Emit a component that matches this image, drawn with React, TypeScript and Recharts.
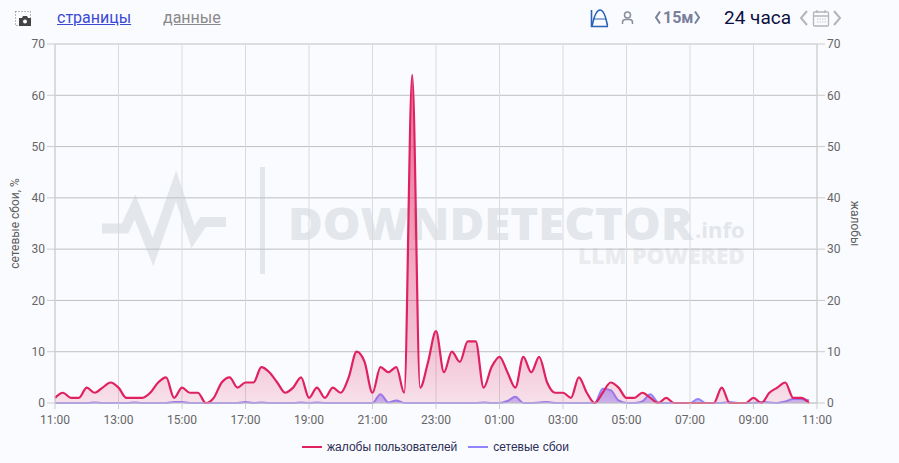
import {
  Area,
  AreaChart,
  CartesianGrid,
  Legend,
  XAxis,
  YAxis,
} from "recharts"

// one value per 15 minutes, starting at 11:00
const complaints = [
  1, 2, 1, 1, 3, 2, 3, 4, 3, 1, 1, 1, 2, 4, 5, 1, 3, 2, 2, 0, 1, 4, 5, 3,
  4, 4, 7, 6, 4, 2, 3, 5, 1, 3, 1, 3, 2, 5, 10, 8, 2, 7, 6, 7, 2, 64, 3, 8,
  14, 6, 10, 8, 12, 12, 3, 7, 9, 6, 3, 9, 6, 9, 4, 2, 2, 1, 5, 2, 0, 2, 4, 3,
  1, 1, 2, 1, 0, 1, 0, 0, 0, 0, 0, 0, 3, 0, 0, 0, 1, 0, 2, 3, 4, 1, 1, 0,
]
const failures = [
  0, 0, 0, 0, 0, 0.1, 0, 0, 0, 0, 0.1, 0, 0, 0, 0, 0.2, 0.2, 0, 0, 0, 0, 0, 0, 0,
  0.2, 0, 0.1, 0, 0, 0, 0, 0.1, 0, 0.1, 0, 0, 0, 0, 0, 0, 0, 1.7, 0.1, 0.5, 0, 0, 0, 0,
  0, 0, 0, 0, 0, 0, 0.1, 0, 0, 0.4, 1.2, 0, 0, 0.1, 0.2, 0, 0, 0, 0, 0, 0, 2.8, 2.5, 0.5,
  0, 0, 0.3, 1.7, 0.1, 0, 0, 0, 0, 0.8, 0, 0, 0, 0.2, 0, 0, 0, 0.2, 0.1, 0, 0.3, 0.8, 0.8, 0.5,
]
const xTicks = [0, 8, 16, 24, 32, 40, 48, 56, 64, 72, 80, 88, 96]
const xLabels = [
  "11:00", "13:00", "15:00", "17:00", "19:00", "21:00", "23:00",
  "01:00", "03:00", "05:00", "07:00", "09:00", "11:00",
]
const yTicks = [0, 10, 20, 30, 40, 50, 60, 70]
const seriesNames = ["жалобы пользователей", "сетевые сбои"]
const seriesColors = ["#e0215f", "#9184fb"]

const data = complaints.map((complaint, i) => ({
  slot: i,
  complaint,
  failure: failures[i],
}))

const tickStyle = { fontSize: 12, fill: "#666", fontFamily: "Roboto" }
const labelStyle = { fontSize: 12, fill: "#5c5c5c", fontFamily: "Roboto", textAnchor: "middle" }

function Watermark() {
  return (
    <svg width={899} height={463} style={{ position: "absolute", left: 0, top: 0 }}>
      <polyline
        points="102,228.5 125,228.5 135,207 153,252 176,186 193,237 203,222 226,222"
        fill="none"
        stroke="#e3e6eb"
        strokeWidth={10}
      />
      <rect x={260} y={167} width={5} height={107} fill="#e3e6eb" />
      <text x={288} y={240} fontFamily="Open Sans" fontWeight={800} fontSize={45} fill="#e3e6eb" textLength={405} lengthAdjust="spacingAndGlyphs">
        DOWNDETECTOR
      </text>
      <text x={695} y={238} fontFamily="Open Sans" fontWeight={700} fontSize={22} fill="#e3e6eb">
        .info
      </text>
      <text x={578} y={264} fontFamily="Open Sans" fontWeight={800} fontSize={22} fill="#e9ebef" textLength={167} lengthAdjust="spacingAndGlyphs">
        LLM POWERED
      </text>
    </svg>
  )
}

function Header() {
  const text = { position: "absolute", fontFamily: "Roboto", whiteSpace: "nowrap" } as const
  return (
    <>
      <svg width={899} height={36} style={{ position: "absolute", left: 0, top: 0 }}>
        {/* camera */}
        <rect x={15.5} y={11.5} width={15} height={14} fill="none" stroke="#777" strokeDasharray="1 2" />
        <path d="M19 18h3l1-2h4l1 2h3v8H19z" fill="#444" />
        <circle cx={25} cy={21.5} r={2} fill="#fff" />
        {/* chart mode */}
        <path d="M591.5 10v16.5H608" fill="none" stroke="#2a62b8" strokeWidth={1.6} />
        <path d="M592 26C595 12 598 10 600 10S605 12 607.5 26" fill="none" stroke="#2a62b8" strokeWidth={1.6} />
        <path d="M593 19h13" stroke="#2a62b8" strokeWidth={1} />
        {/* person */}
        <circle cx={627.5} cy={15} r={3} fill="none" stroke="#8a8f9c" strokeWidth={1.5} />
        <path d="M622.5 24v-1.5q0-3 3-3h4q3 0 3 3V24" fill="none" stroke="#8a8f9c" strokeWidth={1.5} />
        {/* interval arrows */}
        <path d="M660 11.5l-4 6 4 6M695 11.5l4 6-4 6" fill="none" stroke="#7a7f9c" strokeWidth={2} />
        {/* calendar and arrows */}
        <path d="M807 11l-6 7 6 7" fill="none" stroke="#b5b5b5" strokeWidth={2} />
        <rect x={813.5} y={12} width={15} height={14} rx={1} fill="none" stroke="#b5b5b5" strokeWidth={1.3} />
        <path d="M813.5 16h15M817 10v3M825 10v3" stroke="#b5b5b5" strokeWidth={1.3} />
        <path d="M817 19h9M817 22h9" stroke="#c8c8c8" strokeWidth={1} strokeDasharray="1.5 1" />
        <path d="M834 11l6 7-6 7" fill="none" stroke="#b5b5b5" strokeWidth={2} />
      </svg>
      <span style={{ ...text, left: 57, top: 8, fontSize: 16, color: "#3b49d6", textDecoration: "underline" }}>страницы</span>
      <span style={{ ...text, left: 163, top: 8, fontSize: 16, color: "#8a8a8a", textDecoration: "underline" }}>данные</span>
      <span style={{ ...text, left: 663, top: 8, fontSize: 16, fontWeight: 700, color: "#7a7f9c" }}>15м</span>
      <span style={{ ...text, left: 724, top: 6, fontSize: 19, color: "#0b1040" }}>24 часа</span>
    </>
  )
}

function ChartLegend() {
  return (
    <div style={{ display: "flex", justifyContent: "center", paddingRight: 28, fontFamily: "Liberation Sans", fontSize: 12, color: "#2b2b55" }}>
      {seriesNames.map((name, i) => (
        <span key={name} style={{ display: "flex", alignItems: "center", marginRight: i === 0 ? 11 : 0 }}>
          <span style={{ width: 20, height: 2, marginRight: 5, background: seriesColors[i] }} />
          {name}
        </span>
      ))}
    </div>
  )
}

export default function App() {
  return (
    <div style={{ position: "fixed", left: 0, top: 0, width: 899, height: 463, background: "#fafbfe", overflow: "hidden" }}>
      <Watermark />
      <Header />
      <div style={{ position: "absolute", left: 0, top: 0 }}>
        <AreaChart width={899} height={463} data={data} margin={{ top: 44, right: 35, bottom: 10, left: 8 }}>
          <defs>
            <linearGradient id="complaintFill" x1="0" y1="0" x2="0" y2="1">
              <stop offset="0%" stopColor="#e0215f" stopOpacity={1} />
              <stop offset="27%" stopColor="#e0215f" stopOpacity={0.9} />
              <stop offset="62%" stopColor="#e0215f" stopOpacity={0.58} />
              <stop offset="84%" stopColor="#e0215f" stopOpacity={0.42} />
              <stop offset="93%" stopColor="#e0215f" stopOpacity={0.3} />
              <stop offset="100%" stopColor="#e0215f" stopOpacity={0.2} />
            </linearGradient>
            <linearGradient id="failureFill" x1="0" y1="0" x2="0" y2="1">
              <stop offset="0%" stopColor="#8478fc" stopOpacity={0.95} />
              <stop offset="100%" stopColor="#8478fc" stopOpacity={0.7} />
            </linearGradient>
          </defs>
          <CartesianGrid yAxisId="left" stroke="#bdbfc3" vertical={false} horizontalValues={yTicks} />
          <CartesianGrid yAxisId="left" stroke="#d9dade" horizontal={false} verticalValues={xTicks} />
          <XAxis
            dataKey="slot"
            type="number"
            domain={[0, 96]}
            ticks={xTicks}
            tickFormatter={(_v: number, i: number) => xLabels[i]}
            height={30}
            tick={tickStyle}
            tickSize={6}
            tickMargin={6}
            stroke="#ccc"
            interval={0}
          />
          <YAxis
            yAxisId="left"
            domain={[0, 70]}
            ticks={yTicks}
            width={47}
            tick={tickStyle}
            tickSize={8}
            stroke="#ccc"
            label={{ value: "сетевые сбои, %", angle: -90, position: "insideLeft", offset: 7, style: labelStyle }}
          />
          <YAxis
            yAxisId="right"
            orientation="right"
            domain={[0, 70]}
            ticks={yTicks}
            width={47}
            tick={tickStyle}
            tickSize={8}
            stroke="#ccc"
            label={{ value: "жалобы", angle: 90, position: "insideRight", offset: 9, style: labelStyle }}
          />
          <Area
            yAxisId="left"
            dataKey="failure"
            name={seriesNames[1]}
            type="monotone"
            stroke={seriesColors[1]}
            strokeWidth={2}
            fill="url(#failureFill)"
            isAnimationActive={false}
            dot={false}
          />
          <Area
            yAxisId="right"
            dataKey="complaint"
            name={seriesNames[0]}
            type="monotone"
            stroke={seriesColors[0]}
            strokeWidth={2.2}
            fill="url(#complaintFill)"
            isAnimationActive={false}
            dot={false}
          />
          <Legend content={<ChartLegend />} height={20} wrapperStyle={{ top: 440, left: 0, width: 899 }} />
        </AreaChart>
      </div>
    </div>
  )
}
